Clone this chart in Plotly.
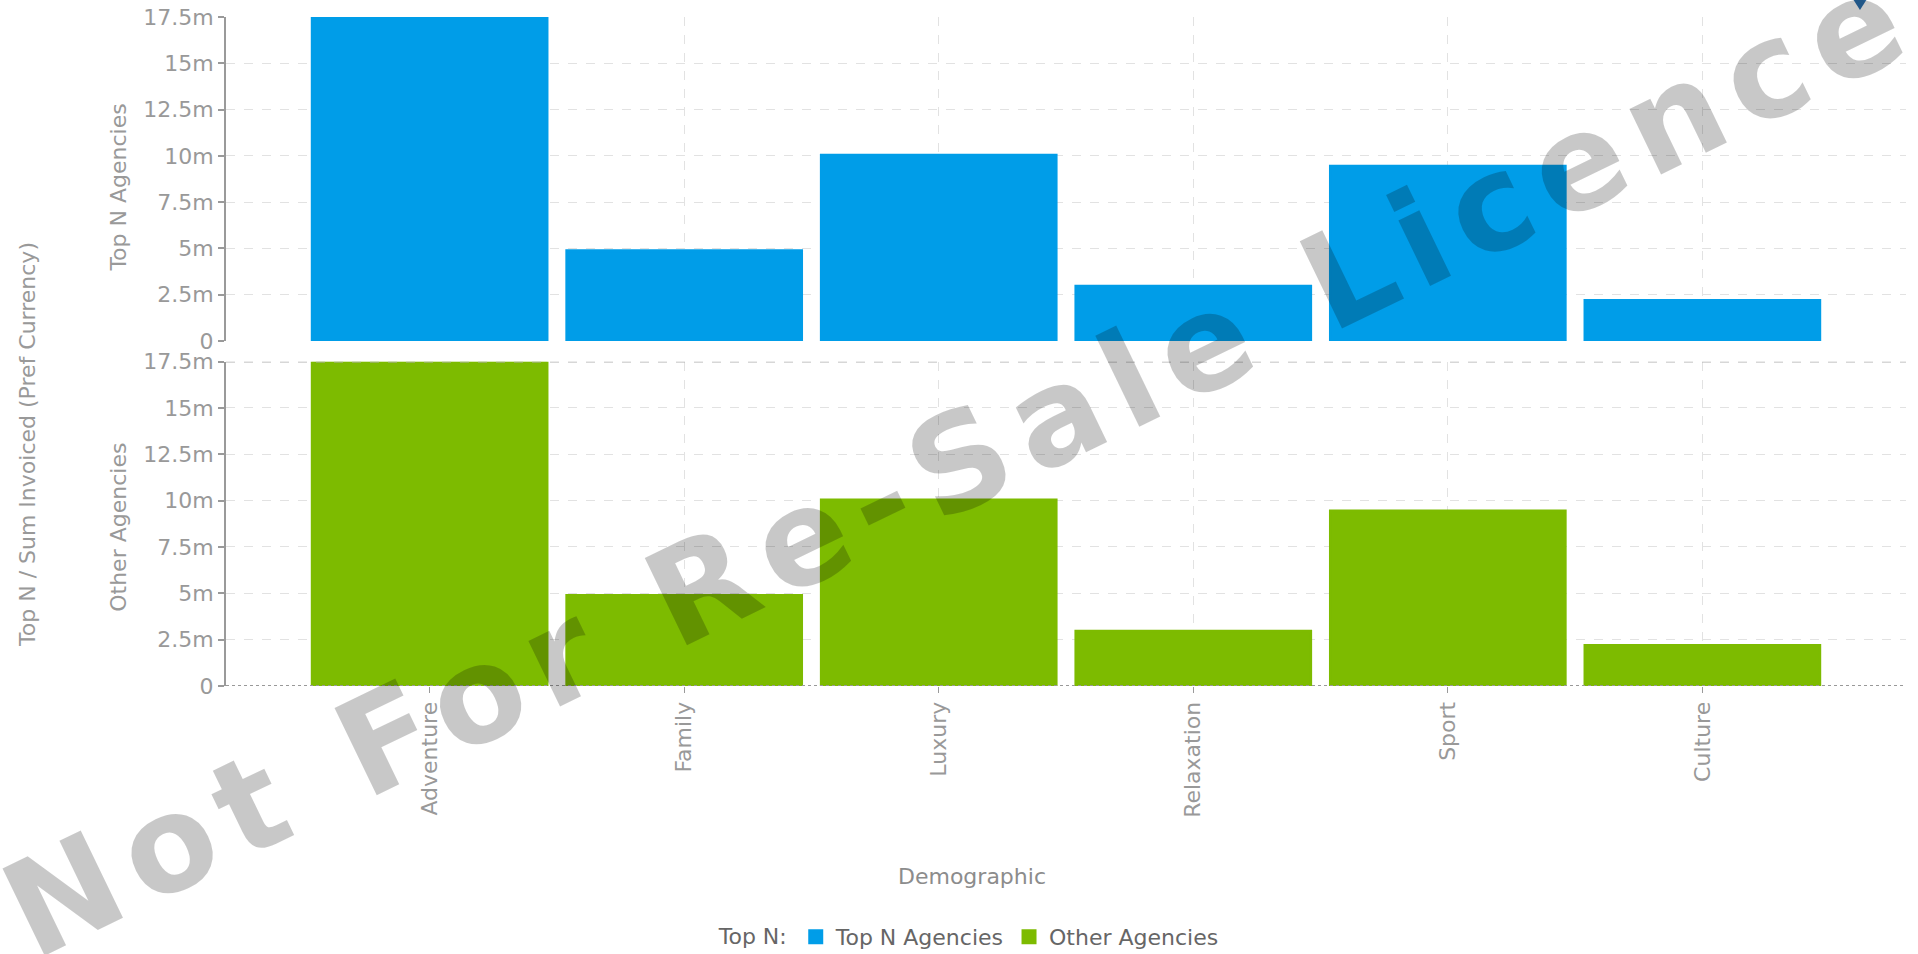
import plotly.graph_objects as go

categories = ["Adventure", "Family", "Luxury", "Relaxation", "Sport", "Culture"]
top_n_values = [17.5e6, 4.88e6, 10.03e6, 2.96e6, 9.44e6, 2.19e6]
other_values = [17.5e6, 4.88e6, 10.03e6, 2.96e6, 9.44e6, 2.19e6]
y_tick_values = [0, 2.5e6, 5e6, 7.5e6, 10e6, 12.5e6, 15e6, 17.5e6]
y_tick_labels = ["0", "2.5m", "5m", "7.5m", "10m", "12.5m", "15m", "17.5m"]
series_names = ["Top N Agencies", "Other Agencies"]
series_colors = ["#009DE8", "#7DBB00"]
watermark = "Not For Re-Sale Licence"

FONT = "DejaVu Sans"
FS = 22
TICK_COLOR = "#999999"
GRID_COLOR = "#e2e2e2"

fig = go.Figure()
fig.add_trace(go.Bar(x=categories, y=top_n_values, name=series_names[0],
                     marker=dict(color=series_colors[0],
                                 line=dict(width=3, color=series_colors[0])),
                     xaxis="x", yaxis="y"))
fig.add_trace(go.Bar(x=categories, y=other_values, name=series_names[1],
                     marker=dict(color=series_colors[1],
                                 line=dict(width=3, color=series_colors[1])),
                     xaxis="x2", yaxis="y2"))

common_x = dict(type="category", range=[-0.8, 5.8], showgrid=True, gridcolor=GRID_COLOR,
                griddash="dash", gridwidth=1, zeroline=False, showline=False)
common_y = dict(range=[0, 17.5e6], tickvals=y_tick_values, ticktext=y_tick_labels,
                showgrid=True, gridcolor=GRID_COLOR, griddash="dash", gridwidth=1,
                zeroline=False, showline=True, linecolor="#9a9a9a", linewidth=2,
                ticks="outside", ticklen=6, tickcolor="#9a9a9a", tickwidth=2,
                tickfont=dict(family=FONT, size=FS, color=TICK_COLOR))

# small dark marker in the top-right corner of the reference
tri_x, tri_top, tri_bot, tri_half = 0.9726, 1.0254, 1.0105, 0.0038
tri_path = (f"M {tri_x - tri_half},{tri_top} L {tri_x + tri_half},{tri_top} "
            f"L {tri_x},{tri_bot} Z")

fig.update_layout(
    width=1918, height=954,
    margin=dict(l=226, r=12, t=17, b=268, autoexpand=False),
    paper_bgcolor="white", plot_bgcolor="white",
    bargap=0.078,
    xaxis=dict(common_x, anchor="y", domain=[0, 1], showticklabels=False, ticks=""),
    xaxis2=dict(common_x, anchor="y2", domain=[0, 1], matches="x", showticklabels=True,
                ticks="outside", ticklen=6, tickcolor="#9a9a9a", tickwidth=1,
                tickangle=-90, tickfont=dict(family=FONT, size=FS, color=TICK_COLOR)),
    yaxis=dict(common_y, anchor="x", domain=[0.5157, 1.0]),
    yaxis2=dict(common_y, anchor="x2", domain=[0.0, 0.4848]),
    showlegend=True,
    legend=dict(orientation="h", x=0.443, y=-0.375, xanchor="center", yanchor="middle",
                font=dict(family=FONT, size=FS, color="#666666"),
                title=dict(text="Top N:", side="left",
                           font=dict(family=FONT, size=FS, color="#666666")),
                itemwidth=30, bgcolor="rgba(0,0,0,0)"),
    shapes=[
        dict(type="line", xref="paper", yref="y2", x0=0, x1=1, y0=17.5e6, y1=17.5e6,
             line=dict(color="#b0b0b0", width=1.5, dash="dash"), layer="above"),
        dict(type="line", xref="paper", yref="y2", x0=0, x1=1, y0=0, y1=0,
             line=dict(color="#999999", width=2, dash="dot"), layer="above"),
        dict(type="path", xref="paper", yref="paper", path=tri_path,
             fillcolor="#2b6fae", line=dict(width=0), layer="above"),
    ],
    annotations=[
        dict(text="Top N Agencies", xref="paper", yref="paper", x=-0.0637, y=0.745,
             textangle=-90, showarrow=False, xanchor="center", yanchor="middle",
             font=dict(family=FONT, size=FS, color=TICK_COLOR)),
        dict(text="Other Agencies", xref="paper", yref="paper", x=-0.0637, y=0.238,
             textangle=-90, showarrow=False, xanchor="center", yanchor="middle",
             font=dict(family=FONT, size=FS, color=TICK_COLOR)),
        dict(text="Top N / Sum Invoiced (Pref Currency)", xref="paper", yref="paper",
             x=-0.1185, y=0.3617, textangle=-90, showarrow=False, xanchor="center",
             yanchor="middle", font=dict(family=FONT, size=FS, color=TICK_COLOR)),
        dict(text="Demographic", xref="paper", yref="paper", x=0.444, y=-0.2855,
             showarrow=False, xanchor="center", yanchor="middle",
             font=dict(family=FONT, size=FS, color="#8c8c8c")),
        dict(text=f"<b><span style='letter-spacing:14px'>{watermark}</span></b>",
             xref="paper", yref="paper",
             x=0.437, y=0.335, textangle=-25.8, showarrow=False, xanchor="center",
             yanchor="middle", font=dict(family="DejaVu Sans", size=133,
                                         color="rgba(0,0,0,0.215)")),
    ],
)

fig.write_html("out.html")
